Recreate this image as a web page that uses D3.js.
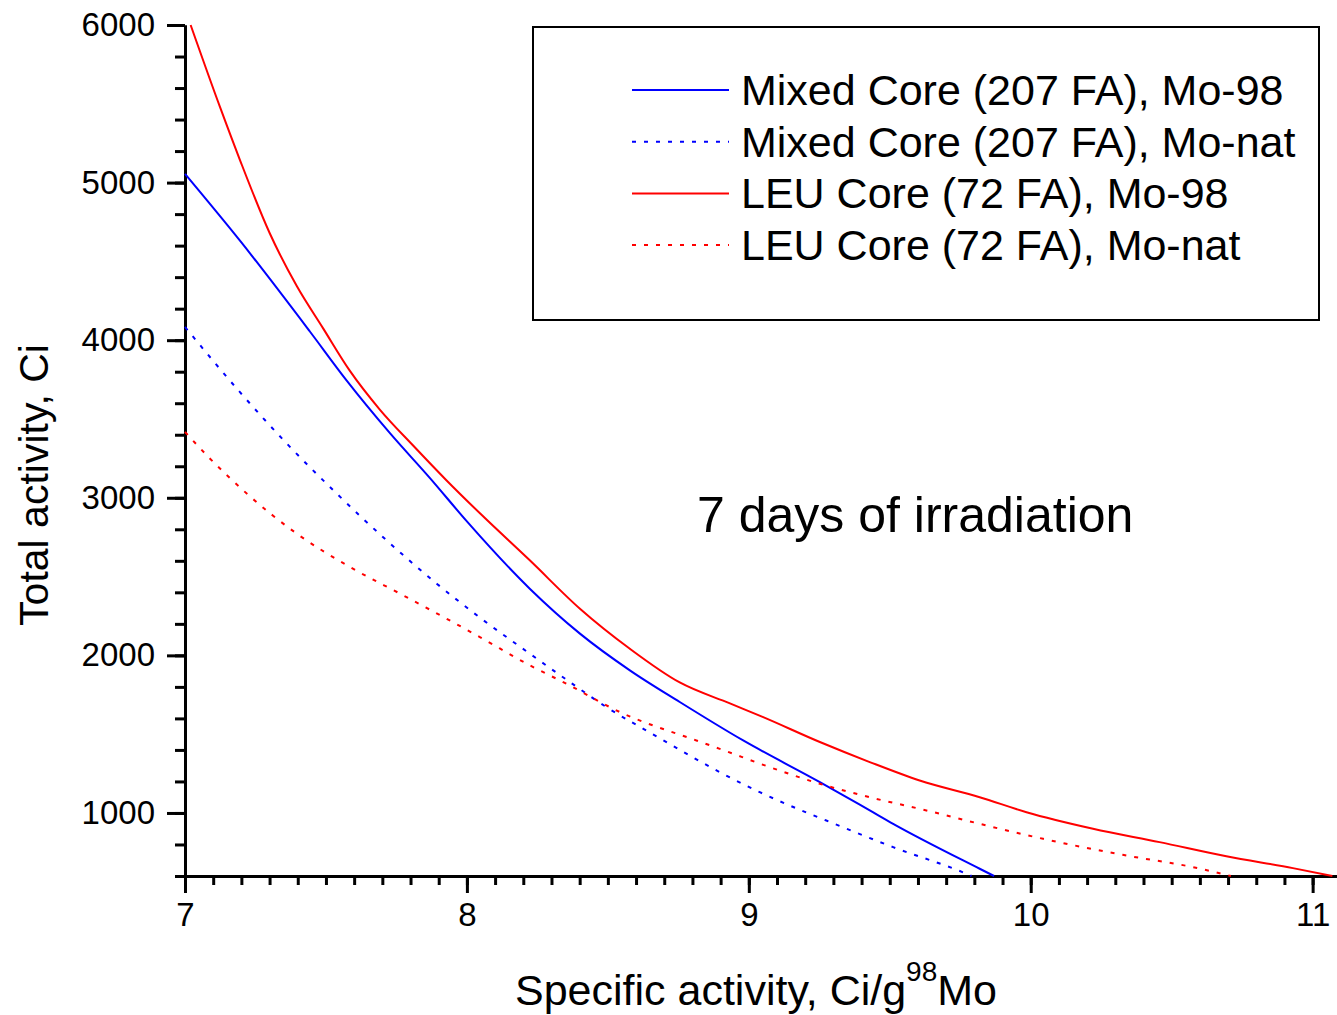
<!DOCTYPE html>
<html lang="en"><head>
  <meta charset="utf-8">
  <title>Total activity vs specific activity</title>
  <script src="https://cdnjs.cloudflare.com/ajax/libs/d3/7.8.5/d3.min.js"></script>
  <style>
    body { margin: 0; background: #fff; }
    text { font-family: "Liberation Sans", Arial, sans-serif; fill: #000; }
  </style>
</head>
<body>
<svg id="chart" width="1337" height="1015"></svg>
<script>
// values (x = specific activity, y = total activity)
let mixed98_x = [7.0, 7.2, 7.443, 7.573, 7.727, 7.869, 8.0, 8.223, 8.401, 8.578, 8.755, 8.98, 9.252, 9.429, 9.512, 9.819, 9.87]
let mixed98_y = [5055, 4620, 4055, 3745, 3410, 3125, 2850, 2423, 2138, 1905, 1704, 1460, 1196, 1016, 931, 646, 600]

let mixedNat_x = [7.0, 7.195, 7.36, 7.538, 7.715, 7.893, 8.046, 8.223, 8.365, 8.495, 8.678, 8.897, 9.039, 9.181, 9.275, 9.512, 9.772, 9.79]
let mixedNat_y = [4084, 3670, 3346, 3027, 2730, 2455, 2240, 2011, 1831, 1672, 1481, 1259, 1132, 1020, 952, 783, 614, 600]

let leu98_x = [7.02, 7.124, 7.195, 7.301, 7.396, 7.49, 7.585, 7.691, 7.81, 7.928, 8.05, 8.223, 8.401, 8.578, 8.755, 8.933, 9.051, 9.252, 9.429, 9.606, 9.819, 9.985, 10.221, 10.457, 10.694, 10.93, 11.07]
let leu98_y = [6000, 5480, 5143, 4677, 4345, 4075, 3805, 3560, 3330, 3110, 2895, 2603, 2296, 2042, 1828, 1695, 1608, 1450, 1323, 1206, 1100, 1005, 900, 815, 725, 650, 600]

let leuNat_x = [7.0, 7.083, 7.219, 7.396, 7.585, 7.774, 7.951, 8.046, 8.223, 8.353, 8.543, 8.814, 8.897, 9.074, 9.252, 9.429, 9.63, 9.819, 10.044, 10.339, 10.576, 10.71]
let leuNat_y = [3418, 3259, 3027, 2773, 2561, 2381, 2210, 2116, 1937, 1820, 1640, 1460, 1407, 1291, 1185, 1100, 1016, 931, 836, 730, 656, 600]

let series_names = ["Mixed Core (207 FA), Mo-98", "Mixed Core (207 FA), Mo-nat",
                    "LEU Core (72 FA), Mo-98", "LEU Core (72 FA), Mo-nat"]
let series_colors = ["#0000ff", "#0000ff", "#ff0000", "#ff0000"]
let series_dotted = [false, true, false, true]

let x_ticks = [7, 8, 9, 10, 11]
let y_ticks = [1000, 2000, 3000, 4000, 5000, 6000]

let series = [
  d3.zip(mixed98_x, mixed98_y),
  d3.zip(mixedNat_x, mixedNat_y),
  d3.zip(leu98_x, leu98_y),
  d3.zip(leuNat_x, leuNat_y)
]

let svg = d3.select("#chart")
let x = d3.scaleLinear().domain([7, 11.09]).range([185, 1338])
let y = d3.scaleLinear().domain([600, 6000]).range([876, 25])

// minor ticks every 0.1 and every 200
let x_minor = d3.range(70, 111).map(d => d / 10)
let y_minor = d3.range(600, 6001, 200)

function style_axis(g) {
  g.selectAll("path").attr("stroke-width", 3)
  g.selectAll("line").attr("stroke-width", 3)
  g.selectAll("text").style("font-size", "33px").attr("font-family", null)
}

svg.append("g")
  .attr("transform", `translate(0,${y(600)})`)
  .call(d3.axisBottom(x).tickValues(x_minor).tickSize(9).tickSizeOuter(0).tickFormat(""))
  .call(style_axis)
svg.append("g")
  .attr("transform", `translate(0,${y(600)})`)
  .call(d3.axisBottom(x).tickValues(x_ticks).tickSize(17).tickSizeOuter(0).tickPadding(10).tickFormat(d3.format("d")))
  .call(style_axis)

svg.append("g")
  .attr("transform", `translate(${x(7)},0)`)
  .call(d3.axisLeft(y).tickValues(y_minor).tickSize(10).tickSizeOuter(0).tickFormat(""))
  .call(style_axis)
svg.append("g")
  .attr("transform", `translate(${x(7)},0)`)
  .call(d3.axisLeft(y).tickValues(y_ticks).tickSize(18).tickSizeOuter(0).tickPadding(12).tickFormat(d3.format("d")))
  .call(style_axis)

let line = d3.line()
  .x(d => x(d[0]))
  .y(d => y(d[1]))
  .curve(d3.curveMonotoneX)

svg.append("g")
  .selectAll("path")
  .data(series)
  .enter()
  .append("path")
  .attr("d", line)
  .attr("fill", "none")
  .attr("stroke", (d, i) => series_colors[i])
  .attr("stroke-width", 2)
  .attr("stroke-dasharray", (d, i) => series_dotted[i] ? "4,8" : null)

// legend
let legend = svg.append("g")
legend.append("rect")
  .attr("x", 533).attr("y", 27).attr("width", 786).attr("height", 293)
  .attr("fill", "none").attr("stroke", "#000").attr("stroke-width", 2)

let rows = legend.selectAll("g.row")
  .data(series_names)
  .enter()
  .append("g")
  .attr("class", "row")
  .attr("transform", (d, i) => `translate(0,${90 + i * 51.7})`)

rows.append("line")
  .attr("x1", 632).attr("x2", 729).attr("y1", 0).attr("y2", 0)
  .attr("stroke", (d, i) => series_colors[i])
  .attr("stroke-width", 2)
  .attr("stroke-dasharray", (d, i) => series_dotted[i] ? "4,8" : null)

rows.append("text")
  .attr("x", 741).attr("y", 15)
  .style("font-size", "43px")
  .text(d => d)

// annotation
svg.append("text")
  .attr("x", 697).attr("y", 532)
  .style("font-size", "50px")
  .text("7 days of irradiation")

// axis titles
let xt = svg.append("text")
  .attr("x", 756).attr("y", 1005)
  .attr("text-anchor", "middle")
  .style("font-size", "43px")
xt.append("tspan").text("Specific activity, Ci/g")
xt.append("tspan").attr("dy", -24).style("font-size", "28px").text("98")
xt.append("tspan").attr("dy", 24).text("Mo")

svg.append("text")
  .attr("transform", "translate(48,485) rotate(-90)")
  .attr("text-anchor", "middle")
  .style("font-size", "41px")
  .text("Total activity, Ci")
</script>
</body>
</html>
